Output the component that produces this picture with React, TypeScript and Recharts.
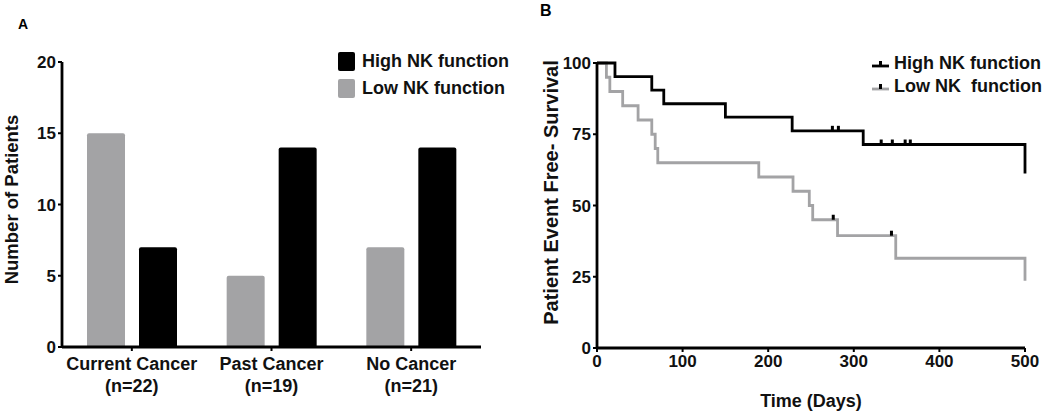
import {
  Bar,
  BarChart,
  ComposedChart,
  Line,
  Scatter,
  XAxis,
  YAxis,
} from "recharts";

// Panel A: patients per cancer group
const categories = ["Current Cancer", "Past Cancer", "No Cancer"];
const groupSizes = ["(n=22)", "(n=19)", "(n=21)"];
const lowCounts = [15, 5, 7];
const highCounts = [7, 14, 14];

// Panel B: Kaplan-Meier steps (days, % event free)
const highTimes = [0, 21, 64, 78, 150, 228, 311, 500];
const highSurv = [100, 95.2, 90.5, 85.7, 81.0, 76.2, 71.4, 61.2];
const lowTimes = [0, 11, 15, 30, 48, 64, 68, 71, 189, 229, 248, 252, 281, 349, 500];
const lowSurv = [100, 95, 90, 85, 80, 75, 70, 65, 60, 55, 50, 45, 39.4, 31.5, 23.6];
const highCensorTimes = [275, 282, 332, 345, 360, 366];
const highCensorSurv = [76.2, 76.2, 71.4, 71.4, 71.4, 71.4];
const lowCensorTimes = [276, 344];
const lowCensorSurv = [45, 39.4];

const yTicksA = [0, 5, 10, 15, 20];
const yTicksB = [0, 25, 50, 75, 100];
const xTicksB = [0, 100, 200, 300, 400, 500];

const GRAY = "#a3a3a5";
const FONT = "'Liberation Sans', Arial, sans-serif";

const barData = categories.map((c, i) => ({
  name: c,
  low: lowCounts[i],
  high: highCounts[i],
}));
const highData = highTimes.map((t, i) => ({ t, s: highSurv[i] }));
const lowData = lowTimes.map((t, i) => ({ t, s: lowSurv[i] }));
const highCensor = highCensorTimes.map((t, i) => ({ t, s: highCensorSurv[i] }));
const lowCensor = lowCensorTimes.map((t, i) => ({ t, s: lowCensorSurv[i] }));

const tickStyle = { fill: "#111", fontSize: 17, fontWeight: 700, fontFamily: FONT };
const axisLine = { stroke: "#000", strokeWidth: 2.8 };
const tickLine = { stroke: "#000", strokeWidth: 2 };

function CategoryTick(props: any) {
  const { x, y, payload, index } = props;
  return (
    <text
      x={x}
      y={y}
      textAnchor="middle"
      fill="#111"
      fontSize={18}
      fontWeight={700}
      fontFamily={FONT}
    >
      <tspan x={x} dy={17}>
        {payload.value}
      </tspan>
      <tspan x={x} dy={22}>
        {groupSizes[index]}
      </tspan>
    </text>
  );
}

function CensorMark(props: any) {
  const { cx, cy } = props;
  if (cx == null || cy == null) return null;
  return <rect x={cx - 1.5} y={cy - 5} width={3} height={5} fill="#000" />;
}

function LegendA() {
  const rows = [
    { label: "High NK function", color: "#000" },
    { label: "Low NK function", color: GRAY },
  ];
  return (
    <div style={{ fontFamily: FONT, fontWeight: 700, fontSize: 18, color: "#111" }}>
      {rows.map((r) => (
        <div key={r.label} style={{ display: "flex", alignItems: "center", height: 27 }}>
          <span
            style={{
              display: "inline-block",
              width: 17,
              height: 19,
              borderRadius: 2,
              background: r.color,
              marginRight: 7,
            }}
          />
          {r.label}
        </div>
      ))}
    </div>
  );
}

function LegendB() {
  const rows = [
    { label: "High NK function", color: "#000" },
    { label: "Low NK  function", color: GRAY },
  ];
  return (
    <div style={{ fontFamily: FONT, fontWeight: 700, fontSize: 18, color: "#111" }}>
      {rows.map((r) => (
        <div key={r.label} style={{ display: "flex", alignItems: "center", height: 23 }}>
          <svg width={17} height={12} style={{ marginRight: 5 }}>
            <line x1={0} y1={8} x2={17} y2={8} stroke={r.color} strokeWidth={2.8} />
            <rect x={7} y={3} width={3} height={5} fill="#000" />
          </svg>
          <span style={{ whiteSpace: "pre" }}>{r.label}</span>
        </div>
      ))}
    </div>
  );
}

export default function App() {
  return (
    <div
      style={{
        position: "absolute",
        left: 0,
        top: 0,
        width: 1050,
        height: 412,
        background: "#fff",
        fontFamily: FONT,
      }}
    >
      <div style={{ position: "absolute", left: 18, top: 16, fontSize: 14, fontWeight: 700 }}>A</div>
      <div style={{ position: "absolute", left: 540, top: 2, fontSize: 16, fontWeight: 700 }}>B</div>

      <div style={{ position: "absolute", left: 0, top: 0 }}>
        <BarChart
          width={540}
          height={412}
          data={barData}
          margin={{ top: 62, right: 59, bottom: 0, left: 0 }}
          barSize={38}
          barGap={14}
        >
          <XAxis
            dataKey="name"
            axisLine={axisLine}
            tickLine={tickLine}
            tickSize={4}
            tick={<CategoryTick />}
            interval={0}
            height={65}
          />
          <YAxis
            width={62}
            domain={[0, 20]}
            ticks={yTicksA}
            axisLine={axisLine}
            tickLine={tickLine}
            tickSize={4}
            tickMargin={2}
            tick={tickStyle}
            label={{
              value: "Number of Patients",
              angle: -90,
              position: "insideLeft",
              offset: 11,
              dy: -5,
              style: { textAnchor: "middle", fill: "#111", fontSize: 18.5, fontWeight: 700, fontFamily: FONT },
            }}
          />
          <Bar dataKey="low" fill={GRAY} radius={[2, 2, 0, 0]} isAnimationActive={false} />
          <Bar dataKey="high" fill="#000" radius={[2, 2, 0, 0]} isAnimationActive={false} />
        </BarChart>
      </div>
      <div style={{ position: "absolute", left: 338, top: 48 }}>
        <LegendA />
      </div>

      <div style={{ position: "absolute", left: 540, top: 0 }}>
        <ComposedChart width={510} height={412} margin={{ top: 63, right: 25, bottom: 0, left: 0 }}>
          <XAxis
            dataKey="t"
            type="number"
            domain={[0, 500]}
            ticks={xTicksB}
            axisLine={axisLine}
            tickLine={tickLine}
            tickSize={4}
            tickMargin={3}
            tick={tickStyle}
            height={64}
            label={{
              value: "Time (Days)",
              position: "insideBottom",
              offset: 5,
              style: { fill: "#111", fontSize: 18, fontWeight: 700, fontFamily: FONT },
            }}
          />
          <YAxis
            dataKey="s"
            type="number"
            width={57}
            domain={[0, 100]}
            ticks={yTicksB}
            axisLine={axisLine}
            tickLine={tickLine}
            tickSize={4}
            tickMargin={2}
            tick={tickStyle}
            label={{
              value: "Patient Event Free- Survival",
              angle: -90,
              position: "insideLeft",
              offset: 11,
              dy: -13,
              style: { textAnchor: "middle", fill: "#111", fontSize: 20, fontWeight: 700, fontFamily: FONT },
            }}
          />
          <Line
            data={lowData}
            dataKey="s"
            type="stepAfter"
            stroke={GRAY}
            strokeWidth={2.8}
            dot={false}
            isAnimationActive={false}
          />
          <Line
            data={highData}
            dataKey="s"
            type="stepAfter"
            stroke="#000"
            strokeWidth={2.8}
            dot={false}
            isAnimationActive={false}
          />
          <Scatter data={highCensor} dataKey="s" shape={<CensorMark />} isAnimationActive={false} />
          <Scatter data={lowCensor} dataKey="s" shape={<CensorMark />} isAnimationActive={false} />
        </ComposedChart>
      </div>
      <div style={{ position: "absolute", left: 872, top: 52 }}>
        <LegendB />
      </div>
    </div>
  );
}
